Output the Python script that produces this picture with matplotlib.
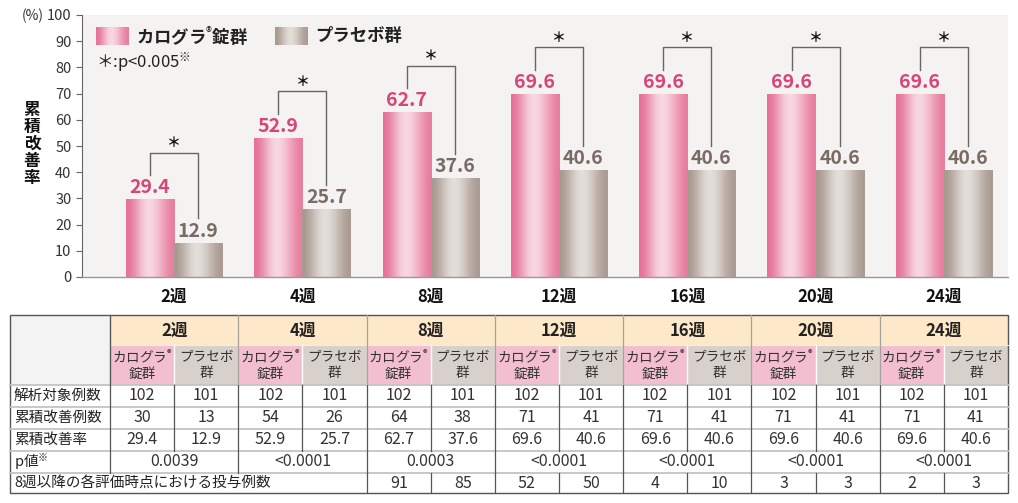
import numpy as np
import matplotlib
matplotlib.use("Agg")
import matplotlib.pyplot as plt
from matplotlib.patches import Rectangle
from matplotlib.colors import to_rgb

plt.rcParams["font.family"] = ["Noto Sans CJK JP", "DejaVu Sans"]
plt.rcParams["mathtext.fontset"] = "custom"
plt.rcParams["mathtext.rm"] = "Noto Sans CJK JP"
plt.rcParams["mathtext.it"] = "Noto Sans CJK JP"
plt.rcParams["mathtext.bf"] = "Noto Sans CJK JP:bold"

# data
weeks = ["2週", "4週", "8週", "12週", "16週", "20週", "24週"]
rate_drug = [29.4, 52.9, 62.7, 69.6, 69.6, 69.6, 69.6]
rate_placebo = [12.9, 25.7, 37.6, 40.6, 40.6, 40.6, 40.6]
n_drug = [102, 102, 102, 102, 102, 102, 102]
n_placebo = [101, 101, 101, 101, 101, 101, 101]
improved_drug = [30, 54, 64, 71, 71, 71, 71]
improved_placebo = [13, 26, 38, 41, 41, 41, 41]
p_values = ["0.0039", "<0.0001", "0.0003", "<0.0001", "<0.0001", "<0.0001", "<0.0001"]
dosed_drug = [None, None, 91, 52, 4, 3, 2]
dosed_placebo = [None, None, 85, 50, 10, 3, 3]
yticks = list(range(0, 101, 10))

W, H = 1018, 503
PINK = ("#e5739a", "#f8d7e2", "#e87e9f")
GRAY = ("#a99a91", "#e3ded9", "#ab9c93")
PINK_TXT = "#d8457a"
GRAY_TXT = "#7a6c65"


def gradient(cols, n=80, c=0.47):
    l, m, r = (np.array(to_rgb(x)) for x in cols)
    t = np.linspace(0, 1, n)
    img = np.zeros((1, n, 3))
    for i, v in enumerate(t):
        if v <= c:
            s = v / c
            img[0, i] = l + (m - l) * (3 * s**2 - 2 * s**3)
        else:
            s = (1 - v) / (1 - c)
            img[0, i] = r + (m - r) * (3 * s**2 - 2 * s**3)
    return img


fig = plt.figure(figsize=(W / 100, H / 100), dpi=100)

# ---------------- table ----------------
tab = fig.add_axes([0, 0, 1, 1])
tab.set_xlim(0, W)
tab.set_ylim(H, 0)
tab.axis("off")

x0, c0, x1 = 10, 110, 1008
gw = (x1 - c0) / len(weeks)
rows = [315, 345, 385, 407, 429, 451, 473, 493]
dark, light = "#555555", "#c4c4c4"

tab.add_patch(Rectangle((x0, rows[0]), c0 - x0, rows[2] - rows[0], fc="#f3f3f3", ec="none"))
tab.add_patch(Rectangle((c0, rows[0]), x1 - c0, rows[1] - rows[0], fc="#fde8c9", ec="none"))
for i, wk in enumerate(weeks):
    gx = c0 + gw * i
    tab.add_patch(Rectangle((gx, rows[1]), gw / 2, rows[2] - rows[1], fc="#f3bfd0", ec="none"))
    tab.add_patch(Rectangle((gx + gw / 2, rows[1]), gw / 2, rows[2] - rows[1], fc="#d8d0cb", ec="none"))
    tab.text(gx + gw / 2, (rows[0] + rows[1]) / 2 + 1, wk, ha="center", va="center",
             fontsize=12, fontweight="bold", color="#222222")
    tab.text(gx + gw / 4, (rows[1] + rows[2]) / 2, "カログラ$^{®}$\n錠群", ha="center", va="center",
             fontsize=9.8, color="#333333", linespacing=1.15)
    tab.text(gx + gw * 3 / 4, (rows[1] + rows[2]) / 2, "プラセボ\n群", ha="center", va="center",
             fontsize=9.8, color="#333333", linespacing=1.15)

# header internal lines
tab.plot([c0, x1], [rows[1], rows[1]], color="#f4ece4", lw=0.8)
for i in range(len(weeks)):
    gx = c0 + gw * i
    tab.plot([gx + gw / 2] * 2, [rows[1], rows[2]], color="white", lw=1.0)
    tab.plot([gx, gx], [rows[0], rows[2]], color="#a8a29d", lw=0.9)

row_labels = ["解析対象例数", "累積改善例数", "累積改善率"]
row_vals = [(n_drug, n_placebo), (improved_drug, improved_placebo),
            (rate_drug, rate_placebo)]
for r, (lab, (a, b)) in enumerate(zip(row_labels, row_vals)):
    yc = (rows[2 + r] + rows[3 + r]) / 2
    tab.text(x0 + 4, yc, lab, ha="left", va="center", fontsize=10.5, color="#222222")
    for i in range(len(weeks)):
        gx = c0 + gw * i
        tab.text(gx + gw / 4, yc, str(a[i]), ha="center", va="center", fontsize=11.5, color="#333333")
        tab.text(gx + gw * 3 / 4, yc, str(b[i]), ha="center", va="center", fontsize=11.5, color="#333333")

yc = (rows[5] + rows[6]) / 2
tab.text(x0 + 4, yc, "p値$^{※}$", ha="left", va="center", fontsize=10.5, color="#222222")
for i, p in enumerate(p_values):
    tab.text(c0 + gw * (i + 0.5), yc, p, ha="center", va="center", fontsize=11.5, color="#333333")

yc = (rows[6] + rows[7]) / 2
tab.text(x0 + 4, yc, "8週以降の各評価時点における投与例数", ha="left", va="center",
         fontsize=10.5, color="#222222")
for i in range(len(weeks)):
    if dosed_drug[i] is None:
        continue
    gx = c0 + gw * i
    tab.text(gx + gw / 4, yc, str(dosed_drug[i]), ha="center", va="center", fontsize=11.5, color="#333333")
    tab.text(gx + gw * 3 / 4, yc, str(dosed_placebo[i]), ha="center", va="center", fontsize=11.5, color="#333333")

# data row lines
for y in rows[2:7]:
    tab.plot([x0, x1], [y, y], color=light, lw=1.3)
first_dosed = next(i for i, v in enumerate(dosed_drug) if v is not None)
tab.plot([c0, c0], [rows[0], rows[6]], color=dark, lw=0.9)
for i in range(len(weeks)):
    gx = c0 + gw * i
    if i > 0:
        bottom = rows[7] if i >= first_dosed else rows[6]
        tab.plot([gx, gx], [rows[2], bottom], color=dark, lw=0.9)
    tab.plot([gx + gw / 2] * 2, [rows[2], rows[5]], color=dark, lw=0.9)
    if i >= first_dosed:
        tab.plot([gx + gw / 2] * 2, [rows[6], rows[7]], color=dark, lw=0.9)
tab.add_patch(Rectangle((x0, rows[0]), x1 - x0, rows[7] - rows[0], fc="none", ec=dark, lw=1.0))

# ---------------- bar chart ----------------
ax_l, ax_r, ax_t, ax_b = 82, 1008, 15, 277
ax = fig.add_axes([ax_l / W, 1 - ax_b / H, (ax_r - ax_l) / W, (ax_b - ax_t) / H])
ax.set_facecolor("#f5f3f1")
x = np.arange(len(weeks))
bw = 0.375
bars_d = ax.bar(x - bw / 2, rate_drug, bw, color="none", lw=0)
bars_p = ax.bar(x + bw / 2, rate_placebo, bw, color="none", lw=0)
g_pink, g_gray = gradient(PINK), gradient(GRAY)
for bars, img in ((bars_d, g_pink), (bars_p, g_gray)):
    for rect in bars:
        bx, bh = rect.get_x(), rect.get_height()
        ax.imshow(img, extent=[bx, bx + rect.get_width(), 0, bh], aspect="auto",
                  interpolation="bicubic", zorder=2)

for i in range(len(weeks)):
    a, b = rate_drug[i], rate_placebo[i]
    ax.text(x[i] - bw / 2, a + 1.0, f"{a}", ha="center", va="bottom", fontsize=14,
            fontweight="bold", color=PINK_TXT, zorder=3)
    ax.text(x[i] + bw / 2, b + 1.0, f"{b}", ha="center", va="bottom", fontsize=14,
            fontweight="bold", color=GRAY_TXT, zorder=3)
    top = a + 18
    ax.plot([x[i] - bw / 2, x[i] - bw / 2, x[i] + bw / 2, x[i] + bw / 2],
            [a + 9.5, top, top, b + 9.5], color="#666666", lw=1.0, zorder=3)
    ax.text(x[i], top + 1.0, "＊", ha="center", va="bottom", fontsize=10,
            fontweight="bold", color="#111111")

ax.set_xlim(-0.718, 6.5)
ax.set_ylim(0, 100)
ax.set_xticks(x, weeks, fontsize=12, fontweight="bold", color="#111111")
ax.set_yticks(yticks, [str(v) for v in yticks], fontsize=10.5, color="#333333")
ax.tick_params(axis="x", length=0, pad=8)
ax.tick_params(axis="y", length=4.5, width=0.8, color="#666666", pad=3)
for s in ("top", "right"):
    ax.spines[s].set_visible(False)
ax.spines["left"].set_color("#666666")
ax.spines["left"].set_linewidth(0.8)
ax.spines["bottom"].set_color("#999999")
ax.spines["bottom"].set_linewidth(1.0)

# legend
for (lx, img, label) in ((96, g_pink, "カログラ$^{®}$錠群"), (275, g_gray, "プラセボ群")):
    sw = fig.add_axes([lx / W, 1 - 45 / H, 33 / W, 18 / H])
    sw.imshow(img, aspect="auto", interpolation="bicubic")
    sw.axis("off")
    fig.text((lx + 40) / W, 1 - 36 / H, label, ha="left", va="center", fontsize=12.5,
             fontweight="bold", color="#222222")
fig.text(96 / W, 1 - 62 / H, "＊:p<0.005$^{※}$", ha="left", va="center", fontsize=12, color="#222222")

fig.text(33 / W, 1 - 16 / H, "(%)", ha="center", va="center", fontsize=10, color="#333333")
fig.text(32 / W, 1 - 144 / H, "累\n積\n改\n善\n率", ha="center", va="center", fontsize=12,
         fontweight="bold", color="#111111", linespacing=0.92)

fig.savefig("out.png", dpi=100)
